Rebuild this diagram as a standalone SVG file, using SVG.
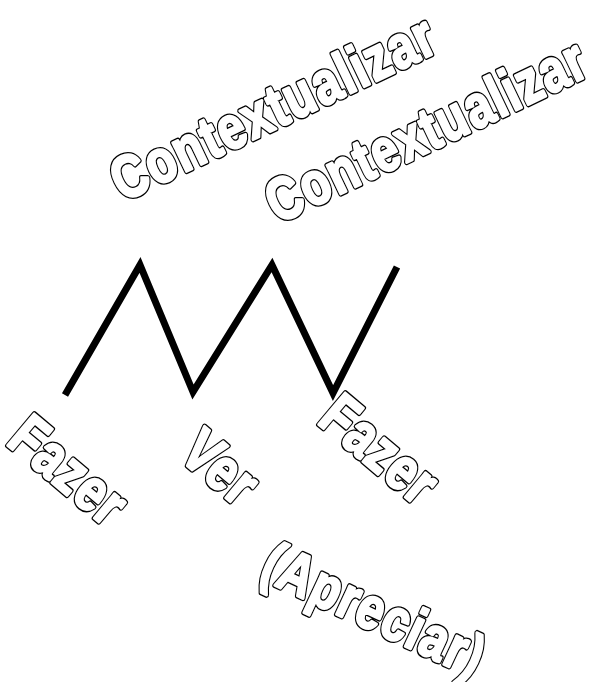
<svg xmlns="http://www.w3.org/2000/svg" width="597" height="682" viewBox="0 0 597 682">
<style>
.w{font-family:"Liberation Sans",Arial,sans-serif;font-weight:bold;text-anchor:middle;letter-spacing:2px;stroke-linejoin:round}
.bk{fill:#000;stroke:#000;stroke-width:5.5}
.fr{fill:#fff;stroke:#fff;stroke-width:2.8}
</style>
<defs>
<text id="t1" class="w" transform="translate(282,126) rotate(-25.5) scale(0.8,1)" font-size="60">Contextualizar</text>
<text id="t2" class="w" transform="translate(435,149) rotate(-25.5) scale(0.79,1)" font-size="60">Contextualizar</text>
<text id="t3" class="w" transform="translate(56,486) rotate(40) scale(0.8,1)" font-size="60">Fazer</text>
<text id="t4" class="w" transform="translate(208,483) rotate(40) scale(0.8,1)" font-size="60">Ver</text>
<text id="t5" class="w" transform="translate(367,465) rotate(40) scale(0.8,1)" font-size="60">Fazer</text>
<text id="t6" class="w" transform="translate(366,628) rotate(25) scale(0.8,1)" font-size="59">(Apreciar)</text>
</defs>
<rect width="597" height="682" fill="#fff"/>
<g id="connectors">
<polyline points="65,395 140,265 193,392 272,265 333,393 397,267" fill="none" stroke="#000" stroke-width="7" stroke-linejoin="miter"/>
</g>
<g id="ctx1"><use href="#t1" class="bk"/><use href="#t1" class="fr"/></g>
<g id="ctx2"><use href="#t2" class="bk"/><use href="#t2" class="fr"/></g>
<g id="fazer1"><use href="#t3" class="bk"/><use href="#t3" class="fr"/></g>
<g id="ver"><use href="#t4" class="bk"/><use href="#t4" class="fr"/></g>
<g id="fazer2"><use href="#t5" class="bk"/><use href="#t5" class="fr"/></g>
<g id="apreciar"><use href="#t6" class="bk"/><use href="#t6" class="fr"/></g>
</svg>
